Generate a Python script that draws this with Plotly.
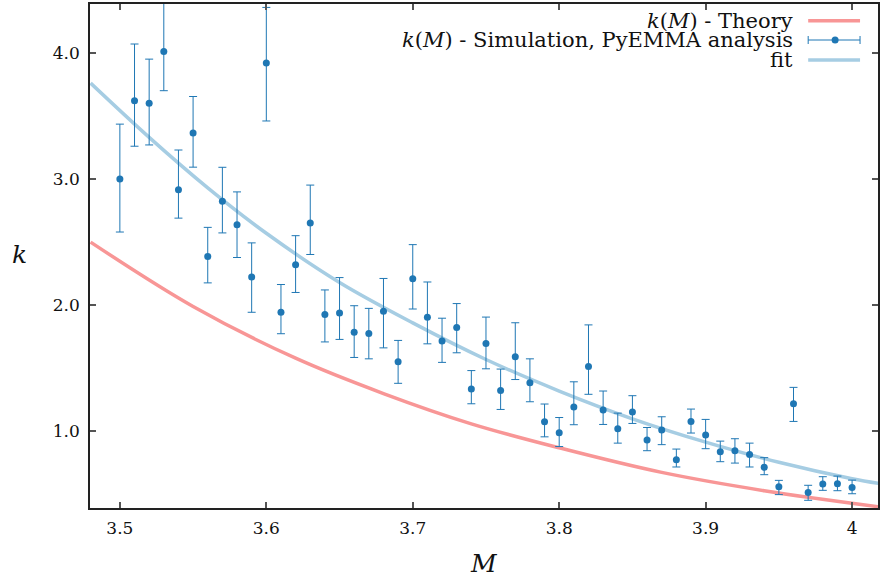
import plotly.graph_objects as go

# ---- data ----
M_sim = [3.50, 3.51, 3.52, 3.53, 3.54, 3.55, 3.56, 3.57, 3.58, 3.59,
         3.60, 3.61, 3.62, 3.63, 3.64, 3.65, 3.66, 3.67, 3.68, 3.69,
         3.70, 3.71, 3.72, 3.73, 3.74, 3.75, 3.76, 3.77, 3.78, 3.79,
         3.80, 3.81, 3.82, 3.83, 3.84, 3.85, 3.86, 3.87, 3.88, 3.89,
         3.90, 3.91, 3.92, 3.93, 3.94, 3.95, 3.96, 3.97, 3.98, 3.99, 4.00]
k_sim = [3.00, 3.62, 3.60, 4.01, 2.915, 3.364, 2.387, 2.823, 2.638, 2.224,
         3.92, 1.944, 2.321, 2.652, 1.926, 1.939, 1.786, 1.775, 1.952, 1.551,
         2.21, 1.904, 1.717, 1.823, 1.336, 1.696, 1.324, 1.591, 1.385, 1.077,
         0.99, 1.193, 1.514, 1.17, 1.021, 1.153, 0.931, 1.011, 0.776, 1.079,
         0.971, 0.839, 0.847, 0.816, 0.715, 0.562, 1.219, 0.515, 0.583, 0.586, 0.556]
err_plus = [0.435, 0.45, 0.35, 0.40, 0.315, 0.29, 0.23, 0.27, 0.26, 0.27,
            0.44, 0.22, 0.23, 0.30, 0.195, 0.28, 0.21, 0.20, 0.26, 0.17,
            0.27, 0.28, 0.18, 0.19, 0.146, 0.21, 0.17, 0.27, 0.19, 0.14,
            0.12, 0.20, 0.33, 0.15, 0.124, 0.13, 0.10, 0.105, 0.084, 0.098,
            0.124, 0.084, 0.095, 0.091, 0.077, 0.05, 0.13, 0.058, 0.058, 0.06, 0.058]
err_minus = [0.42, 0.36, 0.33, 0.31, 0.225, 0.27, 0.21, 0.25, 0.26, 0.28,
             0.46, 0.17, 0.22, 0.25, 0.217, 0.21, 0.20, 0.20, 0.29, 0.17,
             0.24, 0.21, 0.17, 0.20, 0.117, 0.20, 0.15, 0.18, 0.15, 0.12,
             0.11, 0.14, 0.22, 0.115, 0.114, 0.09, 0.084, 0.116, 0.058, 0.092,
             0.108, 0.079, 0.098, 0.098, 0.058, 0.063, 0.14, 0.061, 0.05, 0.056, 0.05]

M_fit = [3.48, 3.52, 3.56, 3.60, 3.65, 3.70, 3.75, 3.80, 3.85, 3.90, 3.95, 4.00, 4.02]
k_fit = [3.76, 3.33, 2.93, 2.57, 2.18, 1.86, 1.57, 1.32, 1.10, 0.915, 0.755, 0.625, 0.585]

M_theory = [3.48, 3.55, 3.62, 3.68, 3.74, 3.80, 3.87, 3.94, 4.02]
k_theory = [2.50, 1.99, 1.58, 1.30, 1.06, 0.87, 0.675, 0.53, 0.40]

x_tickvals = [3.5, 3.6, 3.7, 3.8, 3.9, 4.0]
x_ticktext = ["3.5", "3.6", "3.7", "3.8", "3.9", "4"]
y_tickvals = [1.0, 2.0, 3.0, 4.0]
y_ticktext = ["1.0", "2.0", "3.0", "4.0"]

legend_labels = ["<i>k</i>(<i>M</i>) - Theory",
                 "<i>k</i>(<i>M</i>) - Simulation, PyEMMA analysis",
                 "fit"]

RED = "#f89696"
LIGHTBLUE = "#a6cde3"
BLUE = "#1f77b4"
FONT = "DejaVu Serif"

fig = go.Figure()
fig.add_trace(go.Scatter(x=M_theory, y=k_theory, mode="lines",
                         line=dict(color=RED, width=3.5, shape="spline"),
                         showlegend=False))
fig.add_trace(go.Scatter(x=M_fit, y=k_fit, mode="lines",
                         line=dict(color=LIGHTBLUE, width=3.5, shape="spline"),
                         showlegend=False))
fig.add_trace(go.Scatter(x=M_sim, y=k_sim, mode="markers",
                         marker=dict(color=BLUE, size=7),
                         error_y=dict(type="data", symmetric=False,
                                      array=err_plus, arrayminus=err_minus,
                                      color=BLUE, thickness=1, width=4),
                         showlegend=False))

# ---- manual legend (text left, symbol right) ----
L, R_, T, B = 90, 880, 4, 508
W, H = R_ - L, B - T
def px(x):
    return (x - L) / W
def py(y):
    return 1 - (y - T) / H

rows_y = [20.7, 40.0, 60.0]
anns = []
shapes = []
for lab, yy in zip(legend_labels, rows_y):
    anns.append(dict(x=px(797), y=py(yy), xref="paper", yref="paper",
                     xanchor="right", yanchor="middle", showarrow=False,
                     text=lab, font=dict(family=FONT, size=21, color="#111")))
# theory line sample
shapes.append(dict(type="line", xref="paper", yref="paper",
                   x0=px(810), x1=px(862), y0=py(rows_y[0]), y1=py(rows_y[0]),
                   line=dict(color=RED, width=3.5)))
# fit line sample
shapes.append(dict(type="line", xref="paper", yref="paper",
                   x0=px(810), x1=px(862), y0=py(rows_y[2]), y1=py(rows_y[2]),
                   line=dict(color=LIGHTBLUE, width=3.5)))
# errorbar sample
shapes.append(dict(type="line", xref="paper", yref="paper",
                   x0=px(810), x1=px(862), y0=py(rows_y[1]), y1=py(rows_y[1]),
                   line=dict(color=BLUE, width=1)))
for xx in (810, 862):
    shapes.append(dict(type="line", xref="paper", yref="paper",
                       x0=px(xx), x1=px(xx), y0=py(rows_y[1] - 4), y1=py(rows_y[1] + 4),
                       line=dict(color=BLUE, width=1)))
shapes.append(dict(type="circle", xref="paper", yref="paper",
                   xsizemode="pixel", ysizemode="pixel",
                   xanchor=px(837), yanchor=py(rows_y[1]),
                   x0=-3.5, x1=3.5, y0=-3.5, y1=3.5,
                   fillcolor=BLUE, line=dict(width=0)))

# axis titles
anns.append(dict(x=px(19), y=py(254), xref="paper", yref="paper",
                 xanchor="center", yanchor="middle", showarrow=False,
                 text="<i>k</i>", font=dict(family=FONT, size=25, color="#111")))
anns.append(dict(x=px(485), y=py(563), xref="paper", yref="paper",
                 xanchor="center", yanchor="middle", showarrow=False,
                 text="<i>M</i>", font=dict(family=FONT, size=25, color="#111")))

axis_common = dict(showgrid=False, zeroline=False, showline=True,
                   linecolor="#222", linewidth=1.5, mirror="allticks",
                   ticks="inside", ticklen=6, tickwidth=1.5, tickcolor="#555",
                   tickfont=dict(family=FONT, size=17, color="#111"))

fig.update_layout(
    width=880, height=581,
    font=dict(family=FONT, color="#111"),
    margin=dict(l=L, r=880 - R_, t=T, b=581 - B),
    paper_bgcolor="white", plot_bgcolor="white",
    xaxis=dict(range=[3.4796, 4.0177], tickvals=x_tickvals, ticktext=x_ticktext,
               ticklabelstandoff=4, **axis_common),
    yaxis=dict(range=[0.393, 4.387], tickvals=y_tickvals, ticktext=y_ticktext,
               ticklabelstandoff=5, **axis_common),
    annotations=anns, shapes=shapes, showlegend=False,
)

fig.write_html("out.html")
